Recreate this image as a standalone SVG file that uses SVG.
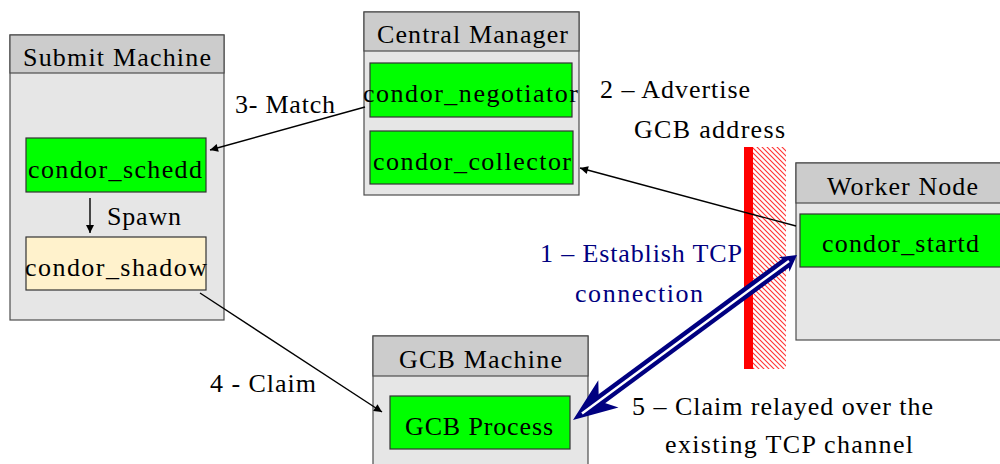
<svg xmlns="http://www.w3.org/2000/svg" width="1000" height="464" viewBox="0 0 1000 464">
<style>
.outer{fill:#e6e6e6;stroke:#4d4d4d;stroke-width:1.2}
.head{fill:#cccccc;stroke:#4d4d4d;stroke-width:1.2}
.proc{fill:#00ff00;stroke:#333333;stroke-width:1.2}
.shadow{fill:#fff2cc;stroke:#333333;stroke-width:1.2}
text{font-family:"Liberation Serif","Times New Roman",serif;font-size:26px;fill:#000000}
.blue{fill:#000080}
.conn{stroke:#000000;stroke-width:1.4;fill:none;marker-end:url(#ah)}
</style>
<defs>
<marker id="ah" viewBox="0 0 10 10" refX="10" refY="5" markerWidth="11" markerHeight="8" markerUnits="userSpaceOnUse" orient="auto">
<path d="M0,0 L10,5 L0,10 z" fill="#000000"/>
</marker>
<pattern id="hatch" patternUnits="userSpaceOnUse" width="5" height="5">
<rect width="5" height="5" fill="#ffffff"/>
<path d="M-1,-1 L6,6 M-1,4 L1,6 M4,-1 L6,1" stroke="#ff3333" stroke-width="1.1"/>
</pattern>
</defs>
<rect width="1000" height="464" fill="#ffffff"/>
<g id="firewall">
<rect x="753" y="147" width="33" height="222" fill="url(#hatch)"/>
<rect x="744" y="147" width="9" height="222" fill="#ff0000"/>
</g>
<g id="submit-machine">
<rect class="outer" x="10" y="35" width="214" height="285"/>
<rect class="head" x="10" y="35" width="214" height="38"/>
<text x="23" y="66" textLength="188" lengthAdjust="spacing">Submit Machine</text>
</g>
<g id="condor-schedd">
<rect class="proc" x="26" y="138" width="180" height="54"/>
<text x="28" y="178" textLength="174" lengthAdjust="spacing">condor_schedd</text>
</g>
<g id="condor-shadow">
<rect class="shadow" x="26" y="237" width="180" height="53"/>
<text x="25" y="276" textLength="182" lengthAdjust="spacing">condor_shadow</text>
</g>
<g id="central-manager">
<rect class="outer" x="364" y="12" width="215" height="183"/>
<rect class="head" x="364" y="12" width="215" height="39"/>
<text x="377" y="43" textLength="191" lengthAdjust="spacing">Central Manager</text>
</g>
<g id="condor-negotiator">
<rect class="proc" x="370" y="63" width="202" height="54"/>
<text x="363" y="102" textLength="215" lengthAdjust="spacing">condor_negotiator</text>
</g>
<g id="condor-collector">
<rect class="proc" x="370" y="131" width="203" height="53"/>
<text x="373" y="170" textLength="198" lengthAdjust="spacing">condor_collector</text>
</g>
<g id="worker-node">
<rect class="outer" x="796" y="163" width="214" height="177"/>
<rect class="head" x="796" y="163" width="214" height="40"/>
<text x="827" y="195" textLength="151" lengthAdjust="spacing">Worker Node</text>
</g>
<g id="condor-startd">
<rect class="proc" x="800" y="214" width="210" height="53"/>
<text x="822" y="252" textLength="157" lengthAdjust="spacing">condor_startd</text>
</g>
<g id="gcb-machine">
<rect class="outer" x="373" y="336" width="215" height="150"/>
<rect class="head" x="373" y="336" width="215" height="40"/>
<text x="399" y="368" textLength="163" lengthAdjust="spacing">GCB Machine</text>
</g>
<g id="gcb-process">
<rect class="proc" x="390" y="396" width="180" height="53"/>
<text x="405" y="435" textLength="148" lengthAdjust="spacing">GCB Process</text>
</g>
<g id="connectors">
<path class="conn" d="M365,107 L210,150"/>
<path class="conn" d="M796,226 L580,168"/>
<path class="conn" d="M90,198 L90,233"/>
<path class="conn" d="M200,293 L382,412"/>
<g id="tcp-arrow">
<path d="M598.8,401 L788,261.5" stroke="#000080" stroke-width="11" fill="none"/>
<polygon points="573,420 618.5,407.6 598.8,401 598.3,380.2" fill="#000080"/>
<polygon points="797,255 789.4,271.7 788.1,261.5 778.8,257.3" fill="#000080"/>
<path d="M582,413.4 L789,260.9" stroke="#ffffff" stroke-width="2.5" fill="none"/>
</g>
</g>
<g id="labels">
<text x="107" y="225" textLength="74" lengthAdjust="spacing">Spawn</text>
<text x="235" y="113" textLength="100" lengthAdjust="spacing">3- Match</text>
<text x="600" y="98" textLength="150" lengthAdjust="spacing">2 – Advertise</text>
<text x="634" y="138" textLength="151" lengthAdjust="spacing">GCB address</text>
<text class="blue" x="540" y="262" textLength="202" lengthAdjust="spacing">1 – Establish TCP</text>
<text class="blue" x="575" y="302" textLength="128" lengthAdjust="spacing">connection</text>
<text x="210" y="392" textLength="106" lengthAdjust="spacing">4 - Claim</text>
<text x="632" y="415" textLength="301" lengthAdjust="spacing">5 – Claim relayed over the</text>
<text x="665" y="453" textLength="248" lengthAdjust="spacing">existing TCP channel</text>
</g>
</svg>
